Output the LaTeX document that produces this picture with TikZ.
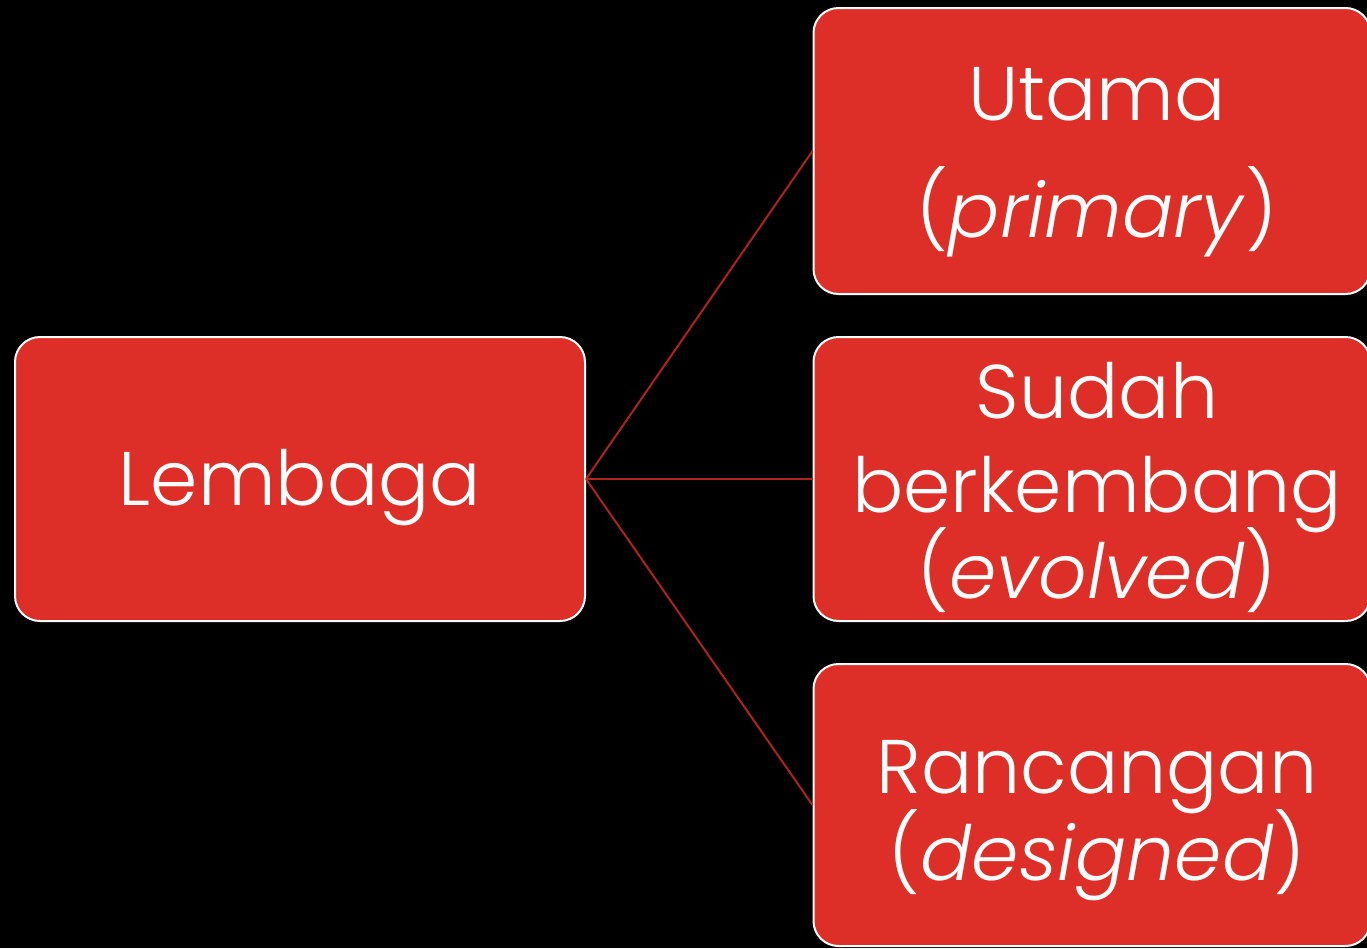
\documentclass[tikz,border=0pt]{standalone}
\usepackage{fontspec}
\setmainfont{Poppins}[UprightFont=* Light,ItalicFont=* Light Italic]
\definecolor{boxred}{HTML}{DE2E28}
\definecolor{linered}{HTML}{B0221E}
\begin{document}
\begin{tikzpicture}[x=1pt,y=-1pt,
  box/.style={draw=white,line width=2pt,fill=boxred,rounded corners=25pt,inner sep=0pt},
  lbl/.style={anchor=base,text=white,font=\fontsize{76}{80}\selectfont,inner sep=0pt},
  conn/.style={draw=linered,line width=2pt}]
\fill[black] (0,0) rectangle (1367,948);
\useasboundingbox (0,0) rectangle (1367,948);
\node[box,minimum width=570pt,minimum height=284pt] (lem) at (300,479) {};
\node[box,minimum width=557pt,minimum height=286pt] (b1) at (1092,151) {};
\node[box,minimum width=557pt,minimum height=284pt] (b2) at (1092,479) {};
\node[box,minimum width=557pt,minimum height=282pt] (b3) at (1092,805) {};
\node[lbl] (t0) at (300,505) {Lembaga};
\node[lbl] (t1a) at (1097,120) {Utama};
\node[lbl] (t1b) at (1097,237) {(\textit{primary})};
\node[lbl] (t2a) at (1097,418) {Sudah};
\node[lbl] (t2b) at (1097,512) {berkembang};
\node[lbl] (t2c) at (1097,598) {(\textit{evolved})};
\node[lbl] (t3a) at (1097,793) {Rancangan};
\node[lbl] (t3b) at (1097,880) {(\textit{designed})};
\draw[conn] (lem.east) -- (b1.west);
\draw[conn] (lem.east) -- (b2.west);
\draw[conn] (lem.east) -- (b3.west);
\end{tikzpicture}
\end{document}
